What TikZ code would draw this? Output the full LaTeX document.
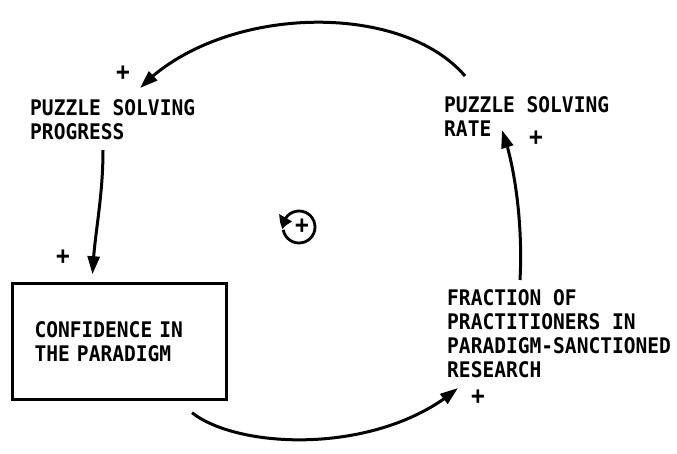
\documentclass[tikz,border=0pt]{standalone}
\usepackage{fontspec}
\newfontfamily\plotfont[FakeStretch=0.91]{DejaVu Sans Mono Bold}
\usetikzlibrary{arrows.meta,bending,calc}
\tikzset{
  txt/.style={font=\plotfont\fontsize{21.5}{24}\selectfont},
  lbl/.style={txt, align=left, inner sep=0pt, anchor=north west},
  sgn/.style={font=\plotfont\fontsize{25}{25}\selectfont, inner sep=0pt},
  link/.style={line width=3pt, -{Triangle[length=18pt,width=12pt]}},
  boxnode/.style={txt, draw, line width=2.5pt, minimum width=214pt, minimum height=116pt,
    text width=170pt, align=left, inner sep=0pt}
}
\begin{document}
\begin{tikzpicture}[x=1pt,y=-1pt]
\useasboundingbox[fill=white] (0,0) rectangle (677,453);
\node[lbl] (progress) at (30,99) {PUZZLE SOLVING\\PROGRESS};
\node[lbl] (rate) at (444,96) {PUZZLE SOLVING\\RATE};
\node[lbl] (fraction) at (447,289) {FRACTION OF\\PRACTITIONERS IN\\PARADIGM-SANCTIONED\\RESEARCH};
\node[boxnode] (conf) at (119.5,341.5) {CONFIDENCE IN\\THE PARADIGM};
% signs
\node[sgn] (s1) at (123,73) {+};
\node[sgn] (s2) at (536,138) {+};
\node[sgn] (s3) at (63,257) {+};
\node[sgn] (s4) at (478,397) {+};
% loop marker
\node[sgn] (loopc) at (299,227) {};
\node[sgn] (loopsign) at (302,226) {+};
\draw[line width=2.8pt, -{Triangle[bend,length=12pt,width=14pt]}]
  ([shift={(170:16)}]loopc.center) arc[start angle=170, end angle=-188, radius=16];
% connectors
\draw[link] ([shift={(21,-20)}]rate.north west)
  .. controls (400,0) and (220,5) .. ([shift={(110,-11)}]progress.north west);
\draw[link] ([shift={(73,51)}]progress.north west)
  .. controls (103,200) and (94,235) .. ([shift={(-27,-8)}]conf.north);
\draw[link] ([shift={(72.5,12)}]conf.south)
  .. controls (240,450) and (380,455) .. ([shift={(11,99)}]fraction.north west);
\draw[link] ([shift={(73,-9)}]fraction.north west)
  .. controls (523,225) and (515,165) .. ([shift={(58,34)}]rate.north west);
\end{tikzpicture}
\end{document}
